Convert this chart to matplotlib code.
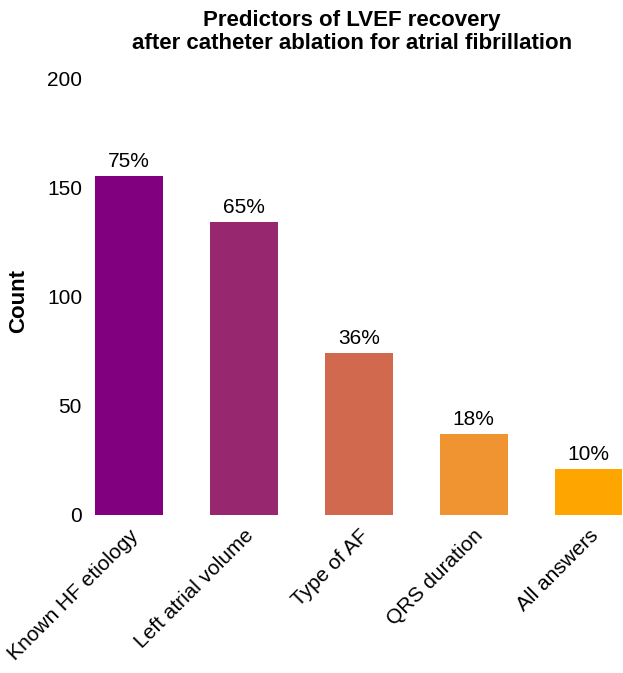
import matplotlib
matplotlib.use("Agg")
import matplotlib.pyplot as plt

categories = ["Known HF etiology", "Left atrial volume", "Type of AF", "QRS duration", "All answers"]
counts = [155, 134, 74, 37, 21]
percents = ["75%", "65%", "36%", "18%", "10%"]
colors = ["#800080", "#972870", "#D1694F", "#EF9430", "#FFA500"]

plt.rcParams['font.family'] = ['Liberation Sans', 'DejaVu Sans']

W, H = 623, 673
fig = plt.figure(figsize=(W / 100, H / 100), dpi=100)
left_px, right_px, bottom_px, top_px = 88, 646, 515, 78
ax = fig.add_axes([left_px / W, 1 - bottom_px / H, (right_px - left_px) / W, (bottom_px - top_px) / H])
x = range(len(categories))
bars = ax.bar(x, counts, width=0.59, color=colors)
for b, p in zip(bars, percents):
    ax.text(b.get_x() + b.get_width() / 2, b.get_height() + 2.5, p,
            ha='center', va='bottom', fontsize=15)
ax.set_xlim(-(129 - left_px) / 115, 4.5)
ax.set_ylim(0, 200)
ax.set_yticks([0, 50, 100, 150, 200])
ax.set_xticks(list(x))
ax.set_xticklabels(categories, rotation=45, ha='right', rotation_mode='anchor', fontsize=15)
ax.tick_params(axis='both', length=0, labelsize=15)
ax.tick_params(axis='y', pad=4.3)
ax.tick_params(axis='x', pad=8)
for s in ax.spines.values():
    s.set_visible(False)
fig.text(19 / W, 1 - 301 / H, "Count", rotation=90, ha='center', va='center',
         fontsize=16, fontweight='bold')
fig.text(352 / W, 1 - 32 / H, "Predictors of LVEF recovery\nafter catheter ablation for atrial fibrillation",
         ha='center', va='center', fontsize=16, fontweight='bold', linespacing=1.15)
fig.savefig("out.png", dpi=100)
